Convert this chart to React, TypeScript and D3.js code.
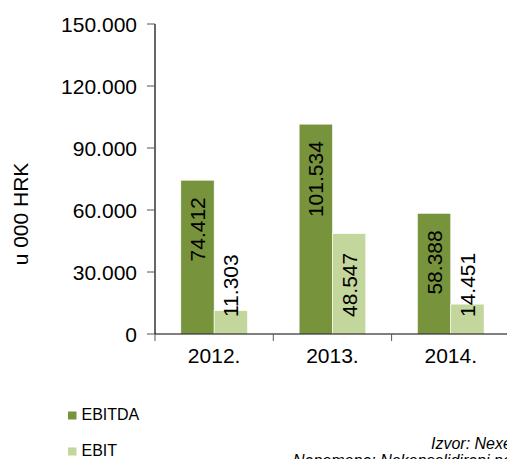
import React from "react";
import * as d3 from "d3";

const categories = ["2012.", "2013.", "2014."];
const series = ["EBITDA", "EBIT"];
const ebitda = [74412, 101534, 58388];
const ebit = [11303, 48547, 14451];
const yTicks = [0, 30000, 60000, 90000, 120000, 150000];
const colors = ["#77933C", "#C3D69B"];

const fmt = (v: number) =>
  v === 0 ? "0" : d3.format(",.3f")(v / 1000).replace(/,/g, "");
const fmtTick = (v: number) => (v === 0 ? "0" : `${v / 1000}.000`);
const fmtLabel = (v: number) => {
  const s = String(v);
  return s.length > 3 ? s.slice(0, s.length - 3) + "." + s.slice(-3) : s;
};

export default function App() {
  const W = 507;
  const H = 459;
  const x0 = 155;
  const y = d3.scaleLinear().domain([0, 150000]).range([334, 24]);
  const x = d3.scaleBand<string>().domain([...categories, "_"]).range([x0, x0 + 4 * 118.3]).padding(0);
  const xs = d3
    .scaleBand<string>()
    .domain(series)
    .range([0, x.bandwidth()])
    .paddingInner(0)
    .paddingOuter(0.775);
  const values = [ebitda, ebit];
  const font = "'Liberation Sans', Arial, Helvetica, sans-serif";

  return (
    <svg
      width={W}
      height={H}
      style={{ position: "absolute", left: 0, top: 0, background: "#fff" }}
      fontFamily={font}
    >
      {/* bars */}
      {categories.map((c, i) =>
        series.map((s, j) => {
          const v = values[j][i];
          const bx = (x(c) as number) + (xs(s) as number);
          const bw = xs.bandwidth();
          const top = y(v);
          const cx = bx + bw / 2;
          const ly = j === 0 ? top + 17 : y(0) - 17;
          return (
            <g key={c + s}>
              <rect
                x={bx}
                y={top}
                width={bw}
                height={y(0) - top}
                fill={colors[j]}
                stroke="#ffffff"
                strokeWidth={0.6}
              />
              <text
                transform={`translate(${cx},${ly}) rotate(-90)`}
                textAnchor={j === 0 ? "end" : "start"}
                dy="0.36em"
                fontSize={21}
                fill="#000"
              >
                {fmtLabel(v)}
              </text>
            </g>
          );
        })
      )}

      {/* y axis */}
      <line x1={x0} x2={x0} y1={y(150000)} y2={y(0)} stroke="#000" strokeWidth={1.2} />
      {yTicks.map((t) => (
        <g key={t}>
          <line x1={x0 - 8} x2={x0} y1={y(t)} y2={y(t)} stroke="#555" strokeWidth={1} />
          <text
            x={x0 - 18}
            y={y(t)}
            dy="0.36em"
            textAnchor="end"
            fontSize={21}
            fill="#000"
          >
            {fmtTick(t)}
          </text>
        </g>
      ))}

      {/* x axis */}
      <line x1={x0} x2={W} y1={y(0)} y2={y(0)} stroke="#000" strokeWidth={1.2} />
      {[...categories, "_"].map((c) => (
        <line
          key={"t" + c}
          x1={x(c) as number}
          x2={x(c) as number}
          y1={y(0)}
          y2={y(0) + 7}
          stroke="#555"
          strokeWidth={1}
        />
      ))}
      {categories.map((c) => (
        <text
          key={"l" + c}
          x={(x(c) as number) + x.bandwidth() / 2}
          y={363}
          textAnchor="middle"
          fontSize={21}
          fill="#000"
        >
          {c}
        </text>
      ))}

      {/* y title */}
      <text
        transform={`translate(28,214) rotate(-90)`}
        textAnchor="middle"
        fontSize={21}
        fill="#000"
      >
        u 000 HRK
      </text>

      {/* legend */}
      {series.map((s, j) => (
        <g key={"lg" + s} transform={`translate(68,${j === 0 ? 420 : 456})`}>
          <rect x={0} y={-8.5} width={8.5} height={8} fill={colors[j]} />
          <text x={13.5} y={0} fontSize={16} fill="#000">
            {s}
          </text>
        </g>
      ))}

      {/* source */}
      <text x={431} y={449} fontSize={16} fontStyle="italic" fill="#000">
        Izvor: Nexe Grupa
      </text>
      <text x={293} y={466} fontSize={16} fontStyle="italic" fill="#000">
        Napomena: Nekonsolidirani podaci
      </text>
    </svg>
  );
}
